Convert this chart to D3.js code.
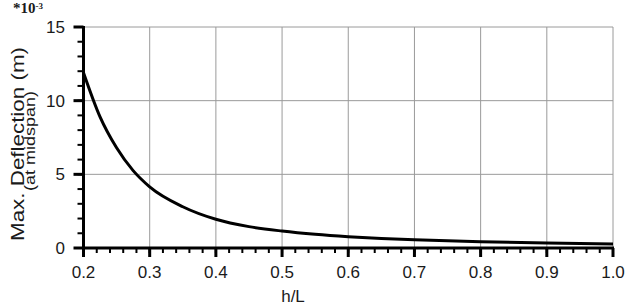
<!DOCTYPE html>
<html>
<head>
<meta charset="utf-8">
<script src="https://d3js.org/d3.v7.min.js"></script>
<style>
  body { margin: 0; background: #fff; }
  text { font-family: Arial, "Liberation Sans", sans-serif; fill: #1a1a1a; }
</style>
</head>
<body>
<div id="chart"></div>
<script>
// h/L ratio and max deflection (x 10^-3 m)
var hL = [0.2, 0.225, 0.25, 0.275, 0.3, 0.35, 0.4, 0.45, 0.5, 0.55, 0.6, 0.65, 0.7, 0.8, 0.9, 1.0];
var deflection = [11.9, 8.9, 6.8, 5.25, 4.15, 2.8, 1.95, 1.45, 1.15, 0.93, 0.77, 0.65, 0.56, 0.43, 0.34, 0.27];
var xTicks = [0.2, 0.3, 0.4, 0.5, 0.6, 0.7, 0.8, 0.9, 1.0];
var yTicks = [0, 5, 10, 15];

var w = 630, h = 306;
var mLeft = 83.5, mRight = 613, mTop = 27, mBottom = 248;

var svg = d3.select("#chart").append("svg")
  .attr("width", w).attr("height", h);

var x = d3.scaleLinear().domain([0.2, 1.0]).range([mLeft, mRight]);
var y = d3.scaleLinear().domain([0, 15]).range([mBottom, mTop]);

// grid
svg.append("g").selectAll("line").data(xTicks.slice(1)).enter().append("line")
  .attr("x1", d => x(d)).attr("x2", d => x(d))
  .attr("y1", mTop).attr("y2", mBottom)
  .attr("stroke", "#9a9a9a").attr("stroke-width", 1);
svg.append("g").selectAll("line").data(yTicks.slice(1)).enter().append("line")
  .attr("x1", mLeft).attr("x2", mRight)
  .attr("y1", d => y(d)).attr("y2", d => y(d))
  .attr("stroke", "#9a9a9a").attr("stroke-width", 1);

// minor ticks
var xMinor = d3.range(0.2, 1.0001, 0.02);
var yMinor = d3.range(0, 15.001, 1);
svg.append("g").selectAll("line").data(xMinor).enter().append("line")
  .attr("x1", d => x(d)).attr("x2", d => x(d))
  .attr("y1", mBottom).attr("y2", mBottom + 5)
  .attr("stroke", "#000").attr("stroke-width", 2);
svg.append("g").selectAll("line").data(yMinor).enter().append("line")
  .attr("x1", mLeft - 6).attr("x2", mLeft)
  .attr("y1", d => y(d)).attr("y2", d => y(d))
  .attr("stroke", "#000").attr("stroke-width", 2);

// major ticks
svg.append("g").selectAll("line").data(xTicks).enter().append("line")
  .attr("x1", d => x(d)).attr("x2", d => x(d))
  .attr("y1", mBottom).attr("y2", mBottom + 9)
  .attr("stroke", "#000").attr("stroke-width", 3);
svg.append("g").selectAll("line").data(yTicks).enter().append("line")
  .attr("x1", mLeft - 10).attr("x2", mLeft)
  .attr("y1", d => y(d)).attr("y2", d => y(d))
  .attr("stroke", "#000").attr("stroke-width", 3);

// axis lines
svg.append("line").attr("x1", mLeft).attr("x2", mLeft)
  .attr("y1", mTop - 1).attr("y2", mBottom + 1)
  .attr("stroke", "#000").attr("stroke-width", 3);
svg.append("line").attr("x1", mLeft - 1).attr("x2", mRight + 1)
  .attr("y1", mBottom).attr("y2", mBottom)
  .attr("stroke", "#000").attr("stroke-width", 3);

// tick labels
svg.append("g").selectAll("text").data(xTicks).enter().append("text")
  .attr("x", d => x(d)).attr("y", 278)
  .attr("text-anchor", "middle").style("font-size", "17px")
  .text(d => d.toFixed(1));
svg.append("g").selectAll("text").data(yTicks).enter().append("text")
  .attr("x", 65).attr("y", d => y(d) + 6)
  .attr("text-anchor", "end").style("font-size", "17px")
  .text(d => d);

// curve
var line = d3.line()
  .x((d, i) => x(hL[i]))
  .y(d => y(d))
  .curve(d3.curveMonotoneX);
svg.append("path").datum(deflection)
  .attr("d", line)
  .attr("fill", "none").attr("stroke", "#000").attr("stroke-width", 3);

// axis titles
svg.append("text").attr("x", 293).attr("y", 302)
  .attr("text-anchor", "middle").style("font-size", "17px").text("h/L");

svg.append("text")
  .attr("transform", "translate(24,144) rotate(-90)")
  .attr("text-anchor", "middle").style("font-size", "19px")
  .attr("textLength", 194).attr("lengthAdjust", "spacingAndGlyphs")
  .text("Max. Deflection (m)");
svg.append("text")
  .attr("transform", "translate(35,141) rotate(-90)")
  .attr("text-anchor", "middle").style("font-size", "15px")
  .attr("textLength", 100).attr("lengthAdjust", "spacingAndGlyphs")
  .text("(at midspan)");

// multiplier
var mult = svg.append("text").attr("x", 13).attr("y", 13)
  .style("font-family", "'Liberation Serif', 'DejaVu Serif', serif")
  .style("font-weight", "bold").style("font-size", "15px");
mult.append("tspan").text("*10");
mult.append("tspan").attr("dy", -4).style("font-size", "9px").text("-3");
</script>
</body>
</html>
